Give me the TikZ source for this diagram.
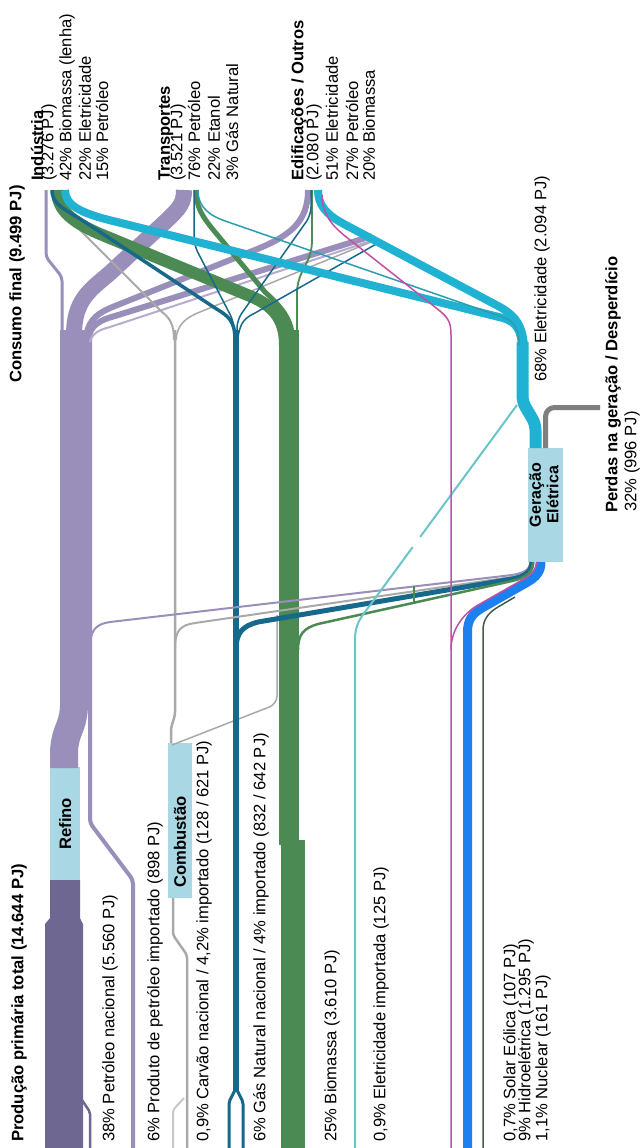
\documentclass[tikz,border=0pt]{standalone}
\usepackage{fontspec}
\setmainfont{Liberation Sans}
\definecolor{pdark}{HTML}{6E6791}
\definecolor{pur}{HTML}{9A8FBA}
\definecolor{purl}{HTML}{B9ABCD}
\definecolor{gry}{HTML}{A9A9A9}
\definecolor{gryl}{HTML}{C8C8C8}
\definecolor{gas}{HTML}{17698C}
\definecolor{grn}{HTML}{4B8A52}
\definecolor{ele}{HTML}{1FB2D3}
\definecolor{elet}{HTML}{2A9DB0}
\definecolor{eimp}{HTML}{6CC4CB}
\definecolor{mag}{HTML}{C24FA6}
\definecolor{hyd}{HTML}{1C80EF}
\definecolor{nuc}{HTML}{3E5E46}
\definecolor{boxc}{HTML}{A9D7E3}
\definecolor{loss}{HTML}{7F7F7F}
\begin{document}
\begin{tikzpicture}[x=1pt,y=-1pt,line join=round,
  lab/.style={rotate=90,anchor=west,inner sep=0pt,font=\fontsize{16.6}{18}\selectfont},
  labb/.style={rotate=90,anchor=west,inner sep=0pt,font=\fontsize{16.6}{18}\selectfont\bfseries},
  procbox/.style={fill=boxc,draw=none,anchor=north west,inner sep=0pt}]
\useasboundingbox (0,0) rectangle (640,1148);
\fill[white] (0,0) rectangle (640,1148);

% ---------- boxes ----------
\node[procbox,minimum width=30pt,minimum height=113pt] (refino) at (50,767) {};
\node[procbox,minimum width=24pt,minimum height=155pt] (comb) at (168,743) {};
\node[procbox,minimum width=35pt,minimum height=114pt] (ger) at (528,448) {};

% ---------- petroleum ----------
\fill[pdark] (50,880) -- (80,880) -- (80,918) -- (83,924) -- (83,1148) -- (45,1148) -- (45,924) -- (50,918) -- cycle;
\draw[pdark,line width=2.5,rounded corners=2] (90,1148) -- (90,1112) -- (82,1100);
\draw[pur,line width=28,rounded corners=10] (64,768) -- (64,742) -- (74,716) -- (74,330);
\draw[pur,line width=4,rounded corners=4] (133,1148) -- (133,880) -- (90,823) -- (90,330);
\draw[pur,line width=3,rounded corners=4] (62,335) -- (62,277) -- (46,257) -- (46,190);
\draw[pur,line width=16] (74,335) .. controls (74,300) and (90,290) .. (110,273) -- (165,222) .. controls (180,208) and (184,203) .. (184,190);
\draw[pur,line width=6] (86,338) .. controls (88,318) and (100,312) .. (115,306) -- (255,250) .. controls (290,236) and (308,222) .. (308,190);
\draw[pur,line width=6] (88,340) .. controls (90,325) and (100,320) .. (115,316) -- (372,236);
\draw[purl,line width=2] (90,342) .. controls (92,334) and (98,330) .. (110,327) -- (377,239);

% ---------- coal ----------
\draw[gryl,line width=2,rounded corners=2] (173,1148) -- (173,1110) -- (184,1098);
\draw[gry,line width=2.5,rounded corners=3] (187,1148) -- (187,955) -- (173,935) -- (173,898);
\draw[gry,line width=2.5,rounded corners=3] (171,743) -- (171,728) -- (175,715) -- (175,330);
\draw[gry,line width=2] (174,340) .. controls (174,325) and (170,318) .. (162,312) -- (78,228) .. controls (68,218) and (60,207) .. (60,195);
\draw[gry,line width=1.5] (176,340) .. controls (177,325) and (185,318) .. (200,312) -- (376,240);
\draw[gry,line width=1.5,rounded corners=8] (172,745) -- (277,704) -- (277,615);

% ---------- biomass ----------
\draw[grn,line width=20] (289,330) -- (289,845);
\draw[grn,line width=24] (293,840) -- (293,1148);
\draw[grn,line width=12] (285,345) .. controls (285,318) and (272,305) .. (250,296) -- (100,234) .. controls (72,222) and (57,210) .. (57,190);
\draw[grn,line width=5] (293,345) .. controls (293,322) and (285,310) .. (265,292) -- (215,232) .. controls (200,214) and (196,205) .. (196,190);
\draw[grn,line width=1.8,rounded corners=10] (297,345) -- (297,282) -- (312,252) -- (312,190);

% ---------- natural gas ----------
\draw[gas,line width=3,rounded corners=2] (229,1148) -- (229,1102) -- (235,1090);
\draw[gas,line width=3,rounded corners=2] (243,1148) -- (243,1102) -- (237,1090);
\draw[gas,line width=6] (236,1091) -- (236,330);
\draw[gas,line width=3.5] (235,340) .. controls (235,320) and (228,316) .. (215,308) -- (85,222) .. controls (65,209) and (52,205) .. (52,190);
\draw[gas,line width=1.5,rounded corners=8] (234,335) -- (234,322) -- (194,245) -- (194,190);
\draw[gas,line width=1.5,rounded corners=8] (237,335) -- (237,320) -- (311,215) -- (311,190);
\draw[gas,line width=1.5] (238,338) .. controls (240,322) and (245,318) .. (255,313) -- (378,243);

% ---------- inputs to power generation ----------
\draw[pur,line width=2] (90,648) .. controls (90,630) and (96,624) .. (110,622) -- (512,575) .. controls (524,573) and (530,570) .. (530,562);
\draw[gry,line width=2] (175,648) .. controls (175,630) and (181,625) .. (195,623) -- (512,577) .. controls (524,575) and (531,570) .. (531,562);
\draw[gas,line width=5] (236,650) .. controls (236,632) and (243,626) .. (258,622) -- (512,579) .. controls (525,577) and (532,571) .. (532,562);
\draw[grn,line width=2.5] (298,650) .. controls (298,634) and (304,628) .. (318,624) -- (512,581) .. controls (526,578) and (533,572) .. (533,562);
\draw[grn,line width=1.2] (414,586) -- (414,604);

% imported electricity
\coordinate (ei1) at (412.7,547.1);
\coordinate (ei2) at (420.2,536.9);
\draw[eimp,line width=2] (355,1148) -- (355,640) .. controls (355,625) and (360,618) .. (368,608) -- (ei1);
\draw[eimp,line width=2] (ei2) -- (517,405);

% hydro, solar, nuclear
\draw[hyd,line width=9] (467.5,1148) -- (467.5,632) .. controls (467.5,620) and (472,614) .. (482,608) -- (526,583) .. controls (537,577) and (541,571) .. (541,562);
\draw[mag,line width=1.5] (451,650) .. controls (451,628) and (465,612) .. (479.8,604) -- (523.8,579) .. controls (532,574) and (536.5,569) .. (536.5,562);
\draw[nuc,line width=1.5] (483,1148) -- (483,630) .. controls (483,618) and (490,612) .. (498,607) -- (515,597);

% ---------- electricity output ----------
\draw[ele,line width=12,rounded corners=6] (522.5,342) -- (522.5,402) -- (535.5,424) -- (535.5,448);
\draw[ele,line width=8] (522,350) .. controls (522,330) and (516,322) .. (503,318) -- (113,221) .. controls (80,213) and (65,205) .. (65,190);
\draw[ele,line width=8] (524,350) .. controls (524,325) and (514,315) .. (500,307) -- (342,223) .. controls (326,214) and (318,205) .. (318,190);
\draw[elet,line width=1.5] (198,190) .. controls (198,208) and (210,216) .. (228,222) -- (505,318) .. controls (515,322) and (519,330) .. (519,345);
\draw[mag,line width=1.5] (451,1148) -- (451,335) .. controls (451,322) and (448,318) .. (440,311) -- (345,236) .. controls (330,224) and (322,212) .. (322,195);

% losses
\draw[loss,line width=5,rounded corners=9] (545.5,448) -- (545.5,407.5) -- (600,407.5);

% ---------- box labels ----------
\node[labb,anchor=center] (trefino) at (refino.center) {Refino};
\node[labb,anchor=center] (tcomb) at (180,842) {Combustão};
\node[rotate=90,anchor=center,inner sep=0pt,align=center,font=\fontsize{16}{17.5}\selectfont\bfseries] (tger) at (544,495) {Geração\\Elétrica};

% ---------- labels ----------
\node[labb] (lprod) at (19,1142) {Produção primária total (14.644 PJ)};
\node[lab] (l38) at (110,1142) {38\% Petróleo nacional (5.560 PJ)};
\node[lab] (l6p) at (155,1142) {6\% Produto de petróleo importado (898 PJ)};
\node[lab] (lcarv) at (204,1142) {0,9\% Carvão nacional / 4,2\% importado (128 / 621 PJ)};
\node[lab] (lgas) at (261,1142) {6\% Gás Natural nacional / 4\% importado (832 / 642 PJ)};
\node[lab] (lbio) at (332,1142) {25\% Biomassa (3.610 PJ)};
\node[lab] (leimp) at (381,1142) {0,9\% Eletricidade importada (125 PJ)};
\node[lab] (lsol) at (511,1142) {0,7\% Solar Eólica (107 PJ)};
\node[lab] (lhid) at (526,1142) {9\% Hidroelétrica (1.295 PJ)};
\node[lab] (lnuc) at (543,1142) {1,1\% Nuclear (161 PJ)};

\node[labb] (lcons) at (17,383) {Consumo final (9.499 PJ)};
\node[labb] (lind) at (37,181) {Indústria};
\node[lab] (lind1) at (49,181) {(3.276 PJ)};
\node[lab] (lind2) at (67,181) {42\% Biomassa (lenha)};
\node[lab] (lind3) at (85,181) {22\% Eletricidade};
\node[lab] (lind4) at (102,181) {15\% Petróleo};
\node[labb] (ltra) at (166,181) {Transportes};
\node[lab] (ltra1) at (178,181) {(3.521 PJ)};
\node[lab] (ltra2) at (194,181) {76\% Petróleo};
\node[lab] (ltra3) at (214,181) {22\% Etanol};
\node[lab] (ltra4) at (232,181) {3\% Gás Natural};
\node[labb] (ledi) at (299,181) {Edificações / Outros};
\node[lab] (ledi1) at (314,181) {(2.080 PJ)};
\node[lab] (ledi2) at (332,181) {51\% Eletricidade};
\node[lab] (ledi3) at (352,181) {27\% Petróleo};
\node[lab] (ledi4) at (369,181) {20\% Biomassa};

\node[lab] (lele) at (542,382) {68\% Eletricidade (2.094 PJ)};
\node[labb] (lperd) at (613,513) {Perdas na geração / Desperdício};
\node[lab] (lperd1) at (632,512) {32\% (996 PJ)};
\end{tikzpicture}
\end{document}
